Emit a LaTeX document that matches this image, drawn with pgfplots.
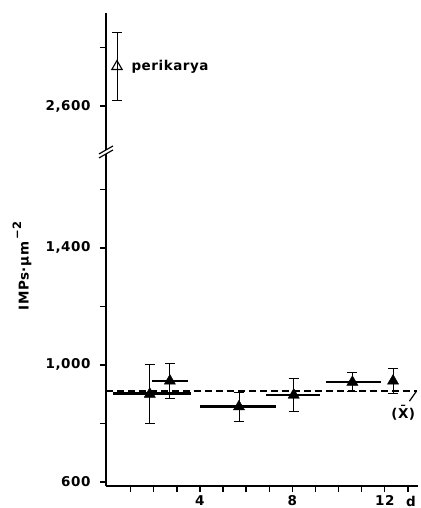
\documentclass[border=0pt]{standalone}
\usepackage{fontspec}
\setmainfont{DejaVu Sans}[LetterSpace=4]
\usepackage{pgfplots}
\pgfplotsset{compat=1.18}
\pgfplotstableread{
x     y    ep    em
1.83  902  1.77  1.59
2.70  945  0.78  0.77
5.69  857  1.60  1.70
8.06  897  1.13  1.19
10.60 941  1.25  1.15
}\hbars
\pgfplotstableread{
x     y    ey
1.83  900  100
2.70  945  60
5.69  857  50
8.06  897  57
10.60 941  32
12.36 945  42
}\means
\pgfplotstableread{
x     y    ey
0.41  2020 115
}\peri
\begin{document}
\begin{tikzpicture}
\path[use as bounding box] (0,0) rectangle (420pt,-508pt);
\begin{axis}[
  at={(106pt,-486pt)}, anchor=south west,
  scale only axis, width=312pt, height=473pt,
  xmin=-0.065, xmax=13.44, ymin=586, ymax=2203,
  axis x line*=bottom, axis y line*=left,
  axis line style={line width=1.8pt, -},
  tick align=outside, major tick length=6pt, minor tick length=6pt,
  tick style={line width=1.4pt, black},
  xtick={4,8,12}, xticklabels={4,8,12},
  minor xtick={1,2,3,5,6,7,9,10,11,13},
  ytick={600,1000,1400,1885},
  yticklabels={600,{1,000},{1,400},{2,600}},
  minor ytick={800,1200,1600,2085},
  every tick label/.style={font=\fontsize{13.5}{13.5}\selectfont\bfseries},
  yticklabel style={xshift=-6pt},
  xticklabel style={inner sep=1pt, yshift=-2pt},
  clip=false,
]
% mean line
\addplot[black, line width=1.2pt, dash pattern=on 7pt off 4pt] coordinates {(-0.065,911) (13.38,911)};
% horizontal (age range) bars
\addplot[only marks, mark=none, error bars/.cd, x dir=both, x explicit, error mark=none,
  error bar style={black, solid, line width=2.6pt}]
  table[x=x, y=y, x error plus=ep, x error minus=em] {\hbars};
% means with SD
\addplot[only marks, black, mark=triangle*, mark size=6.5pt,
  error bars/.cd, y dir=both, y explicit,
  error bar style={black, line width=0.9pt},
  error mark options={rotate=90, mark size=5pt, line width=0.9pt, black}]
  table[x=x, y=y, y error=ey] {\means};
% perikarya
\addplot[only marks, black, mark=triangle, mark size=6pt, mark options={fill=white, line width=1.1pt},
  error bars/.cd, y dir=both, y explicit,
  error bar style={black, line width=0.9pt},
  error mark options={rotate=90, mark size=5pt, line width=0.9pt, black}]
  table[x=x, y=y, y error=ey] {\peri};
\node[anchor=west, font=\fontsize{13.5}{13.5}\selectfont\bfseries] at ([xshift=11pt]axis cs:0.41,2020) {perikarya};
% axis break
\draw[white, line width=3pt] ([xshift=-5pt,yshift=-3pt]axis cs:-0.065,1728) -- ([xshift=5pt,yshift=3pt]axis cs:-0.065,1728);
\draw[black, line width=1.2pt] ([xshift=-7pt,yshift=-6pt]axis cs:-0.065,1728) -- ([xshift=7pt,yshift=2pt]axis cs:-0.065,1728);
\draw[black, line width=1.2pt] ([xshift=-7pt,yshift=-2pt]axis cs:-0.065,1728) -- ([xshift=7pt,yshift=6pt]axis cs:-0.065,1728);
% mean annotation
\draw[black, line width=1.2pt] (axis cs:13.38,911) -- (axis cs:13.07,876);
\node[font=\fontsize{13.5}{13.5}\selectfont\bfseries] at (axis cs:12.80,836) {(X̄)};
\end{axis}
\node[rotate=90, font=\fontsize{13.5}{13.5}\selectfont\bfseries] at (22pt,-266pt) {IMPs·μm\,\raisebox{0.55em}{\fontsize{11.5}{11.5}\selectfont −2}};
\node[inner sep=1pt, font=\fontsize{13.5}{13.5}\selectfont\bfseries] at (411pt,-501pt) {d};
\end{tikzpicture}
\end{document}
